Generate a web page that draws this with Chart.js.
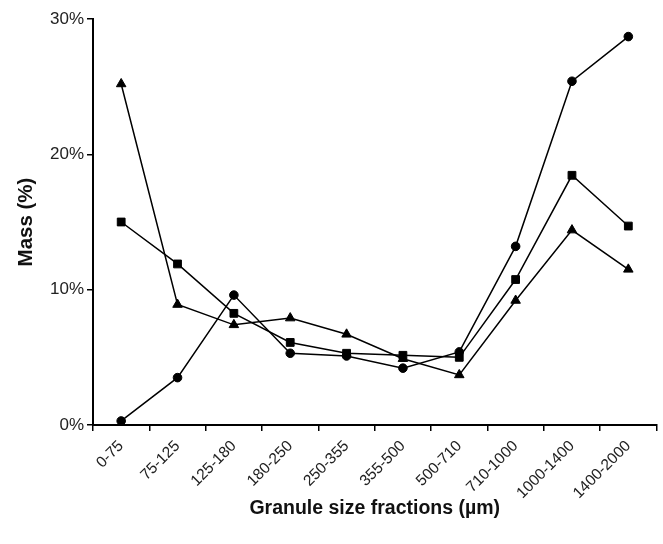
<!DOCTYPE html>
<html>
<head>
<meta charset="utf-8">
<script src="https://cdn.jsdelivr.net/npm/chart.js@4"></script>
<style>
  html, body { margin: 0; padding: 0; background: #fff; }
  #wrap { width: 663px; height: 544px; }
</style>
</head>
<body>
<div id="wrap"><canvas id="massChart" width="663" height="544"></canvas></div>
<script>
// size fractions (µm)
var fractions = ['0-75', '75-125', '125-180', '180-250', '250-355', '355-500', '500-710', '710-1000', '1000-1400', '1400-2000'];
// mass % per fraction, one list per marker type
var triangleSeries = [25.2, 8.9, 7.4, 7.9, 6.7, 4.9, 3.7, 9.2, 14.4, 11.5];
var squareSeries   = [15.0, 11.9, 8.25, 6.1, 5.3, 5.15, 5.0, 10.75, 18.45, 14.7];
var circleSeries   = [0.3, 3.5, 9.6, 5.3, 5.1, 4.2, 5.4, 13.2, 25.4, 28.7];
var yTicks = [0, 10, 20, 30];

var ctx = document.getElementById('massChart');

function makeSet(label, data, style, radius) {
    return {
        label: label,
        data: data,
        borderColor: '#000',
        backgroundColor: '#000',
        borderWidth: 1.5,
        pointStyle: style,
        pointRadius: radius,
        pointHoverRadius: radius,
        pointBackgroundColor: '#000',
        pointBorderColor: '#000',
        pointBorderWidth: 1,
        tension: 0,
        fill: false
    };
}

var fam = 'Liberation Sans, Arial, sans-serif';

new Chart(ctx, {
    type: 'line',
    data: {
        labels: fractions,
        datasets: [
            makeSet('triangle', triangleSeries, 'triangle', 5.5),
            makeSet('square', squareSeries, 'rect', 5.5),
            makeSet('circle', circleSeries, 'circle', 4.3)
        ]
    },
    options: {
        responsive: false,
        animation: false,
        layout: { padding: { top: 19, right: 5, left: 0, bottom: 0 } },
        plugins: {
            legend: { display: false },
            tooltip: { enabled: false }
        },
        scales: {
            x: {
                offset: true,
                grid: {
                    offset: true,
                    drawOnChartArea: false,
                    drawTicks: true,
                    tickLength: 6,
                    color: '#000',
                    lineWidth: 1.5
                },
                border: { color: '#000', width: 2 },
                ticks: {
                    color: '#222',
                    font: { family: fam, size: 15.5 },
                    minRotation: 45,
                    maxRotation: 45,
                    autoSkip: false,
                    padding: 6
                },
                title: {
                    display: true,
                    text: 'Granule size fractions (µm)',
                    color: '#111',
                    font: { family: fam, size: 19.5, weight: 'bold' },
                    padding: { top: 0, bottom: 24 }
                },
                afterFit: function (scale) { scale.height = 119; }
            },
            y: {
                min: 0,
                max: 30,
                afterBuildTicks: function (scale) {
                    scale.ticks = yTicks.map(function (v) { return { value: v }; });
                },
                grid: {
                    drawOnChartArea: false,
                    drawTicks: true,
                    tickLength: 6,
                    color: '#000',
                    lineWidth: 1.5
                },
                border: { color: '#000', width: 2 },
                ticks: {
                    color: '#222',
                    font: { family: fam, size: 17 },
                    padding: 3,
                    callback: function (v) { return v + '%'; }
                },
                title: {
                    display: true,
                    text: 'Mass (%)',
                    color: '#111',
                    font: { family: fam, size: 20.5, weight: 'bold' },
                    padding: { top: 14, bottom: 0 }
                },
                afterFit: function (scale) { scale.width = 93; }
            }
        }
    }
});
</script>
</body>
</html>
